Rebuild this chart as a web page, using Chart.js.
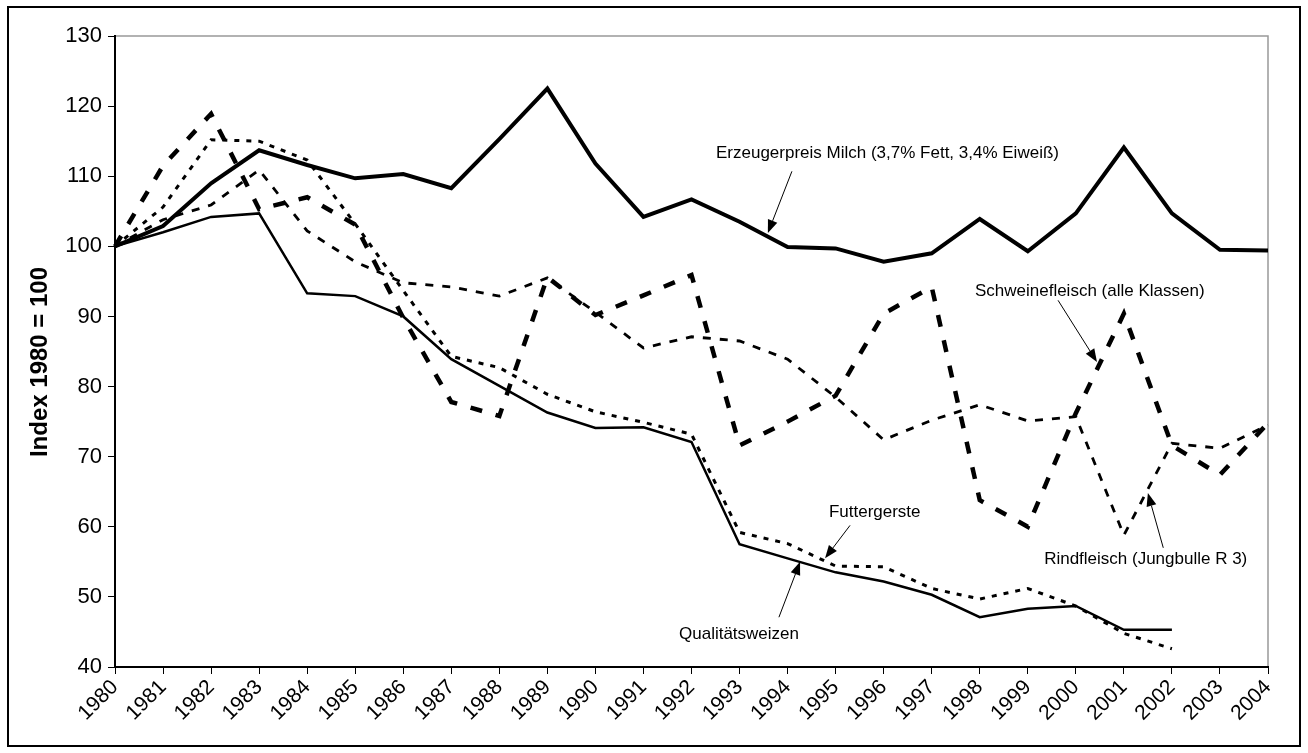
<!DOCTYPE html>
<html>
<head>
<meta charset="utf-8">
<script src="https://cdn.jsdelivr.net/npm/chart.js@4.4.0/dist/chart.umd.min.js"></script>
<style>
  body { margin: 0; background: #fff; }
</style>
</head>
<body>
<canvas id="myChart" width="1308" height="753"></canvas>
<script>
var jahre = ['1980','1981','1982','1983','1984','1985','1986','1987','1988','1989','1990','1991','1992',
             '1993','1994','1995','1996','1997','1998','1999','2000','2001','2002','2003','2004'];

var milch   = [100, 102.9, 109, 113.7, 111.6, 109.7, 110.3, 108.3, 115.3, 122.5, 111.8, 104.2, 106.7,
               103.5, 99.9, 99.7, 97.8, 99.0, 103.9, 99.3, 104.7, 114.1, 104.7, 99.5, 99.4];
var weizen  = [100, 102.0, 104.2, 104.7, 93.3, 92.9, 90.0, 83.9, 80.1, 76.3, 74.1, 74.2, 72.1,
               57.5, 55.5, 53.5, 52.2, 50.3, 47.1, 48.3, 48.7, 45.3, 45.3];
var gerste  = [100, 105.6, 115.2, 115.0, 112.3, 103.2, 93.7, 84.3, 82.7, 78.9, 76.4, 74.9, 73.2,
               59.2, 57.6, 54.4, 54.3, 51.2, 49.7, 51.2, 48.7, 44.8, 42.6];
var schwein = [100, 111.5, 118.9, 105.3, 107.0, 103.1, 89.8, 77.8, 75.8, 95.6, 90.2, 93.0, 95.9,
               71.6, 75.0, 78.7, 90.4, 94.2, 63.8, 60.0, 76.2, 90.4, 71.6, 67.4, 74.8];
var rind    = [100, 103.8, 105.9, 110.9, 102.2, 97.8, 94.8, 94.2, 92.9, 95.5, 90.6, 85.5, 87.1,
               86.5, 83.9, 78.5, 72.4, 75.2, 77.4, 75.1, 75.7, 58.8, 71.9, 71.2, 74.5];

var yMin = 40, yMax = 130, yStep = 10;
var yTitel = 'Index 1980 = 100';

// Beschriftungen mit Pfeil (Lage in Datenkoordinaten: x = Jahresindex, y = Indexwert)
var notizen = [
  { text: 'Erzeugerpreis Milch (3,7% Fett, 3,4% Eiweiß)', x: 12.51, y: 113.3, vonX: 14.09, vonY: 110.7, nachX: 13.59, nachY: 101.9 },
  { text: 'Schweinefleisch (alle Klassen)', x: 17.9, y: 93.6, vonX: 19.63, vonY: 92.3, nachX: 20.44, nachY: 83.5 },
  { text: 'Rindfleisch (Jungbulle R 3)', x: 19.34, y: 55.4, vonX: 21.82, vonY: 57.0, nachX: 21.5, nachY: 64.8 },
  { text: 'Futtergerste', x: 14.86, y: 62.1, vonX: 15.3, vonY: 60.2, nachX: 14.78, nachY: 55.5 },
  { text: 'Qualitätsweizen', x: 11.74, y: 44.7, vonX: 13.82, vonY: 47.1, nachX: 14.26, nachY: 55.0 }
];

Chart.defaults.font.family = '"Liberation Sans", Arial, sans-serif';
Chart.defaults.color = '#000';

var rahmen = {
  id: 'rahmen',
  beforeDraw: function(chart) {
    var c = chart.ctx;
    c.save();
    c.fillStyle = '#fff';
    c.fillRect(0, 0, chart.width, chart.height);
    c.strokeStyle = '#000';
    c.lineWidth = 2;
    c.strokeRect(8, 7, chart.width - 16, chart.height - 14);
    var a = chart.chartArea;
    c.strokeStyle = '#999';
    c.lineWidth = 1.5;
    c.beginPath();
    c.moveTo(a.left, a.top);
    c.lineTo(a.right, a.top);
    c.lineTo(a.right, a.bottom);
    c.stroke();
    // Achsentitel
    c.fillStyle = '#000';
    c.font = 'bold 24px "Liberation Sans", Arial, sans-serif';
    c.textAlign = 'center';
    c.textBaseline = 'middle';
    c.translate(40, 362);
    c.rotate(-Math.PI / 2);
    c.fillText(yTitel, 0, 0);
    c.restore();
  },
  afterDatasetsDraw: function(chart) {
    var c = chart.ctx;
    var xs = chart.scales.x, ys = chart.scales.y;
    c.save();
    c.fillStyle = '#000';
    c.strokeStyle = '#000';
    c.font = '17px "Liberation Sans", Arial, sans-serif';
    c.textBaseline = 'middle';
    c.textAlign = 'left';
    notizen.forEach(function(n) {
      c.fillText(n.text, xs.getPixelForValue(n.x), ys.getPixelForValue(n.y));
      var x1 = xs.getPixelForValue(n.vonX), y1 = ys.getPixelForValue(n.vonY);
      var x2 = xs.getPixelForValue(n.nachX), y2 = ys.getPixelForValue(n.nachY);
      var w = Math.atan2(y2 - y1, x2 - x1);
      var len = 13, br = 5;
      var bx = x2 - len * Math.cos(w), by = y2 - len * Math.sin(w);
      c.lineWidth = 1;
      c.beginPath();
      c.moveTo(x1, y1);
      c.lineTo(bx, by);
      c.stroke();
      c.beginPath();
      c.moveTo(x2, y2);
      c.lineTo(bx + br * Math.sin(w), by - br * Math.cos(w));
      c.lineTo(bx - br * Math.sin(w), by + br * Math.cos(w));
      c.closePath();
      c.fill();
    });
    c.restore();
  }
};

var ctx = document.getElementById('myChart');
var myChart = new Chart(ctx, {
  type: 'line',
  data: {
    labels: jahre,
    datasets: [
      { label: 'Qualitätsweizen', data: weizen, borderColor: '#000', borderWidth: 2.5, pointRadius: 0 },
      { label: 'Futtergerste', data: gerste, borderColor: '#000', borderWidth: 3, borderDash: [5, 7], pointRadius: 0 },
      { label: 'Rindfleisch (Jungbulle R 3)', data: rind, borderColor: '#000', borderWidth: 2.8, borderDash: [8, 9], pointRadius: 0 },
      { label: 'Schweinefleisch (alle Klassen)', data: schwein, borderColor: '#000', borderWidth: 4.5, borderDash: [12, 14], pointRadius: 0 },
      { label: 'Erzeugerpreis Milch (3,7% Fett, 3,4% Eiweiß)', data: milch, borderColor: '#000', borderWidth: 4, pointRadius: 0 }
    ]
  },
  options: {
    responsive: false,
    animation: false,
    devicePixelRatio: 1,
    layout: { padding: { top: 36, right: 40, left: 0, bottom: 0 } },
    plugins: { legend: { display: false }, tooltip: { enabled: false } },
    scales: {
      x: {
        offset: false,
        grid: { drawOnChartArea: false, color: '#000', tickLength: 7 },
        border: { color: '#000', width: 2 },
        ticks: { minRotation: 45, maxRotation: 45, autoSkip: false, font: { size: 21 }, padding: 1 },
        afterFit: function(s) { s.height = 86; }
      },
      y: {
        min: yMin, max: yMax,
        grid: { drawOnChartArea: false, color: '#000', tickLength: 7 },
        border: { color: '#000', width: 2 },
        ticks: { stepSize: yStep, font: { size: 22 }, padding: 6 },
        afterFit: function(s) { s.width = 115; }
      }
    }
  },
  plugins: [rahmen]
});
</script>
</body>
</html>
